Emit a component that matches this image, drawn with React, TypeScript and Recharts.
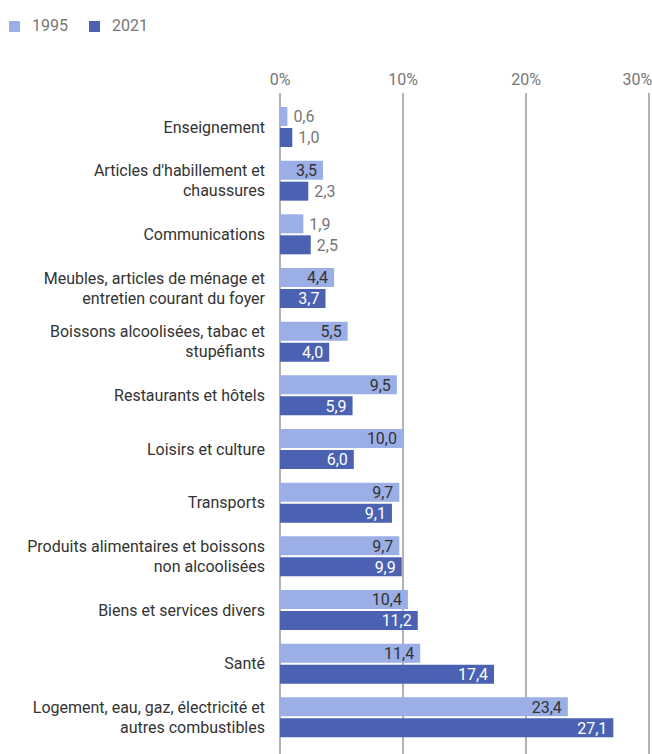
import React from 'react';
import { BarChart, Bar, XAxis, YAxis, CartesianGrid, LabelList } from 'recharts';

const categories = [
  'Enseignement',
  "Articles d'habillement et\nchaussures",
  'Communications',
  'Meubles, articles de ménage et\nentretien courant du foyer',
  'Boissons alcoolisées, tabac et\nstupéfiants',
  'Restaurants et hôtels',
  'Loisirs et culture',
  'Transports',
  'Produits alimentaires et boissons\nnon alcoolisées',
  'Biens et services divers',
  'Santé',
  'Logement, eau, gaz, électricité et\nautres combustibles',
];
const values1995 = [0.6, 3.5, 1.9, 4.4, 5.5, 9.5, 10.0, 9.7, 9.7, 10.4, 11.4, 23.4];
const values2021 = [1.0, 2.3, 2.5, 3.7, 4.0, 5.9, 6.0, 9.1, 9.9, 11.2, 17.4, 27.1];
const xTicks = [0, 10, 20, 30];
const seriesNames = ['1995', '2021'];

const LIGHT = '#9baee5';
const DARK = '#4a62b1';
const FONT = 'Roboto, sans-serif';

const data = categories.map((name, i) => ({ name, y1995: values1995[i], y2021: values2021[i] }));

const fmt = (v: number) => v.toFixed(1).replace('.', ',');

function makeLabel(insideColor: string) {
  return (props: any) => {
    const { x, y, width, height, value } = props;
    const inside = width > 36;
    return (
      <text
        x={inside ? x + width - 6 : x + width + 6}
        y={y + height / 2}
        dy="0.36em"
        textAnchor={inside ? 'end' : 'start'}
        fill={inside ? insideColor : '#777'}
        fontSize={16}
        fontFamily={FONT}
      >
        {fmt(value)}
      </text>
    );
  };
}

const CategoryTick = (props: any) => {
  const { x, y, payload } = props;
  const lines = String(payload.value).split('\n');
  const start = -((lines.length - 1) * 20) / 2;
  return (
    <text x={x} y={y} textAnchor="end" fill="#333" fontSize={16} fontFamily={FONT}>
      {lines.map((l, i) => (
        <tspan key={i} x={x} y={y + start + i * 20} dy="0.36em">
          {l}
        </tspan>
      ))}
    </text>
  );
};

export default function App() {
  return (
    <div style={{ width: 652, height: 754, position: 'relative' }}>
      <style>{`body{margin:0}`}</style>
      <div
        style={{
          position: 'absolute',
          top: 16,
          left: 9,
          display: 'flex',
          fontFamily: FONT,
          fontSize: 16,
          color: '#777',
          lineHeight: '20px',
        }}
      >
        {seriesNames.map((label, i) => (
          <div key={label} style={{ display: 'flex', alignItems: 'center', marginRight: 21 }}>
            <span
              style={{
                width: 11,
                height: 11,
                background: i === 0 ? LIGHT : DARK,
                display: 'inline-block',
                marginRight: 12,
              }}
            />
            <span>{label}</span>
          </div>
        ))}
      </div>
      <BarChart
        width={652}
        height={754}
        data={data}
        layout="vertical"
        margin={{ top: 60, right: 3, bottom: 0, left: 0 }}
        barSize={19}
        barGap={2}
      >
        <CartesianGrid vertical horizontal={false} stroke="#666" />
        <XAxis
          type="number"
          orientation="top"
          domain={[0, 30]}
          ticks={xTicks}
          height={33}
          axisLine={false}
          tickLine={false}
          tickFormatter={(v: number) => `${v}%`}
          tick={{ fill: '#777', fontSize: 16, fontFamily: FONT }}
        />
        <YAxis
          type="category"
          dataKey="name"
          width={280}
          axisLine={false}
          tickLine={false}
          tickMargin={9}
          interval={0}
          padding={{ top: 7, bottom: 10 }}
          tick={<CategoryTick />}
        />
        <Bar dataKey="y1995" fill={LIGHT} isAnimationActive={false}>
          <LabelList dataKey="y1995" content={makeLabel('#333')} />
        </Bar>
        <Bar dataKey="y2021" fill={DARK} isAnimationActive={false}>
          <LabelList dataKey="y2021" content={makeLabel('#fff')} />
        </Bar>
      </BarChart>
    </div>
  );
}
